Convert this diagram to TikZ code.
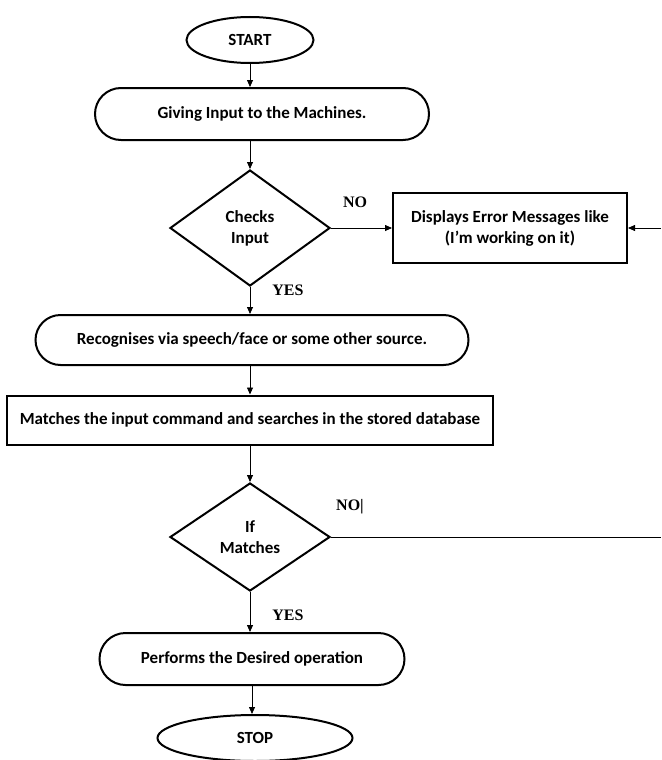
\documentclass[tikz,border=0pt]{standalone}
\usepackage{fontspec}
\setmainfont{Carlito}
\newfontfamily\answerfont{Liberation Serif}
\usetikzlibrary{shapes.geometric,shapes.misc,arrows.meta}

\begin{document}
\begin{tikzpicture}[x=1pt,y=-1pt]
      \useasboundingbox (0,0) rectangle (661,760);

      \begin{scope}[every node/.style={draw, line width=2pt, align=center, inner sep=0pt,
                    font=\bfseries\fontsize{17}{21}\selectfont}]
        \node[ellipse, minimum width=127pt, minimum height=46pt] (1) at (250,40) {START};
        \node[rounded rectangle, minimum width=334pt, minimum height=52pt] (2) at (262,114) {Giving Input to the Machines.};
        \node[diamond, minimum width=160pt, minimum height=116pt] (3) at (250,228) {Checks\\Input};
        \node[rectangle, minimum width=234pt, minimum height=70pt] (4) at (510,228) {Displays Error Messages like\\(I’m working on it)};
        \node[rounded rectangle, minimum width=433pt, minimum height=50pt] (5) at (252,340) {Recognises via speech/face or some other source.};
        \node[rectangle, minimum width=486pt, minimum height=49pt] (6) at (250,420) {Matches the input command and searches in the stored database};
        \node[diamond, minimum width=160pt, minimum height=108pt] (7) at (250,537) {If\\Matches};
        \node[rounded rectangle, minimum width=305pt, minimum height=52pt] (8) at (252,659) {Performs the Desired operation};
        \node[ellipse, minimum width=195pt, minimum height=46pt] (9) at (255,738) {STOP};
      \end{scope}

      \coordinate (10) at (661,228);
      \coordinate (11) at (661,537);

      \begin{scope}[every node/.style={font=\answerfont\bfseries\fontsize{16}{18}\selectfont}]
        \node (12) at (355,202) {NO};
        \node (13) at (288,290) {YES};
        \node (14) at (350,507) {NO|};
        \node (15) at (288,615) {YES};
      \end{scope}

      \begin{scope}[every edge/.style={draw, line width=0.8pt, -{Triangle[length=7pt,width=6pt]}}]
        \path (1.south) edge (1.south |- 2.north);
        \path (2.south -| 3.north) edge (3.north);
        \path (3.east) edge (4.west);
        \path (10) edge (4.east);
        \path (3.south) edge (3.south |- 5.north);
        \path (5.south -| 6.north) edge (6.north);
        \path (6.south) edge (7.north);
        \path (7.east) edge[-] (11);
        \path (7.south) edge (7.south |- 8.north);
        \path (8.south) edge (8.south |- 9.north);
      \end{scope}

    \end{tikzpicture}
\end{document}
